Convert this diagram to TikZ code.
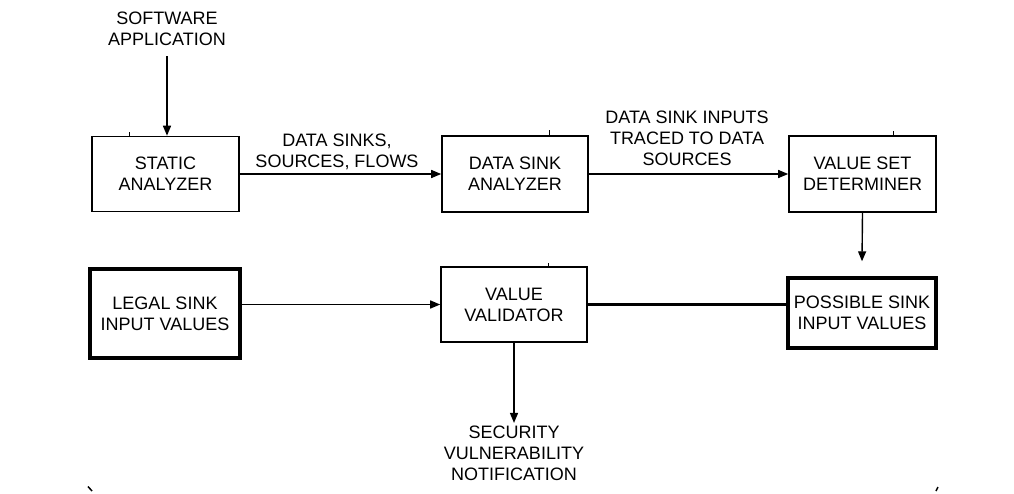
\documentclass[tikz,border=0pt]{standalone}
\usepackage{fontspec}
\setmainfont{Liberation Sans}
\usetikzlibrary{arrows.meta,calc}
\begin{document}
\begin{tikzpicture}[x=1pt,y=-1pt,
  every node/.style={font=\fontsize{18}{21}\selectfont, align=center, inner sep=0pt},
  blk/.style={draw, line width=1.6pt, minimum width=#1},
  blk/.default=146pt,
  thickblk/.style={draw, line width=3.4pt},
  lbl/.style={},
  arr/.style={line width=1.4pt, -{Triangle[length=10pt,width=8pt]}},
  thickln/.style={line width=2.8pt},
  tick/.style={line width=1pt}
]
\useasboundingbox[fill=white] (0,0) rectangle (1014,493);
% boxes
\node[blk, minimum width=147pt, minimum height=75pt] (sa)  at (165.5,174) {STATIC\\ANALYZER};
\node[blk, minimum width=146pt, minimum height=76pt] (dsa) at (515,174) {DATA SINK\\ANALYZER};
\node[blk, minimum width=147pt, minimum height=76pt] (vsd) at (862.5,174) {VALUE SET\\DETERMINER};
\node[thickblk, minimum width=150pt, minimum height=89pt] (legal) at (165,313.5) {LEGAL SINK\\INPUT VALUES};
\node[blk, minimum width=146pt, minimum height=75pt] (vv) at (514,304.5) {VALUE\\VALIDATOR};
\node[thickblk, minimum width=148pt, minimum height=70pt] (psiv) at (862,313) {POSSIBLE SINK\\INPUT VALUES};
% text labels
\node[lbl] (sw) at (167,29) {SOFTWARE\\APPLICATION};
\node[lbl] (dsl) at (337,152) {DATA SINKS,\\SOURCES, FLOWS};
\node[lbl] (dil) at (687,138) {DATA SINK INPUTS\\TRACED TO DATA\\SOURCES};
\node[lbl] (sec) at (514,453.5) {SECURITY\\VULNERABILITY\\NOTIFICATION};
% connectors
\draw[arr] ([yshift=-10pt]sw.south -| sa.north) ++(1.5,0) -- ([xshift=1.5pt]sa.north);
\draw[arr] (sa.east) -- (dsa.west);
\draw[arr] (dsa.east) -- (vsd.west);
\draw[arr] (vsd.south) -- ([yshift=15pt]psiv.north);
\draw[arr] (legal.east |- vv.west) -- (vv.west);
\draw[thickln] (vv.east) -- (vv.east -| psiv.west);
\draw[arr] (vv.south) -- ([yshift=3pt]sec.north);
% small marks
\draw[tick] (549,130) -- (549,136);
\draw[tick] (548,263) -- (548,267);
\draw[tick] (893,131) -- (893,136);
\draw[tick] (129,132) -- (129,136);
\draw[line width=1.5pt] (88,486.5) -- (92,491);
\draw[line width=1.5pt] (936,491) -- (938,487);
\end{tikzpicture}
\end{document}
